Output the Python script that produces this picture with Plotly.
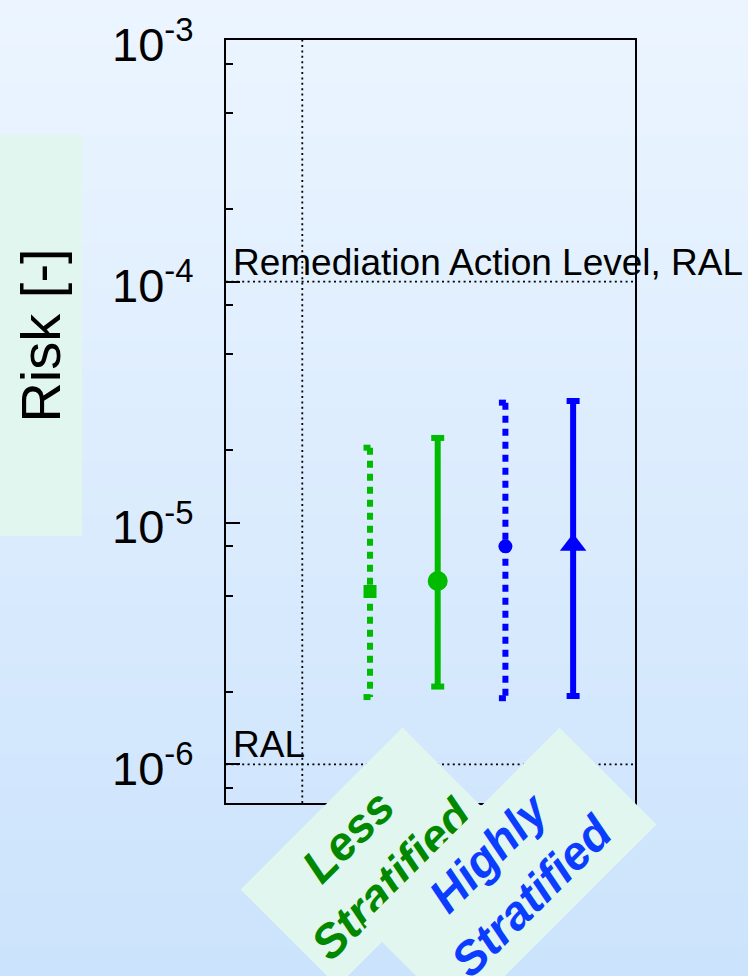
import base64
import struct
import zlib

import numpy as np
import plotly.graph_objects as go

# ---------------------------------------------------------------- data
series_names = ["Less Stratified A", "Less Stratified B", "Highly Stratified A", "Highly Stratified B"]
series_x = [1, 2, 3, 4]
risk_median = [5.2e-6, 5.75e-6, 8.0e-6, 8.1e-6]
risk_low = [1.90e-6, 2.10e-6, 1.88e-6, 1.92e-6]
risk_high = [2.05e-5, 2.25e-5, 3.15e-5, 3.20e-5]

ral_levels = [1e-4, 1e-6]
ral_labels = ["Remediation Action Level, RAL", "RAL"]

y_tick_vals = [1e-6, 1e-5, 1e-4, 1e-3]
y_tick_text = ["10<sup>-6</sup>", "10<sup>-5</sup>", "10<sup>-4</sup>", "10<sup>-3</sup>"]
y_minor_vals = [m * 10.0 ** e for e in range(-7, -3) for m in (2, 5, 8)]

group_labels = ["Less<br>Stratified", "Highly<br>Stratified"]
y_title = "Risk [-]"

# ---------------------------------------------------------------- style
series_color = ["#00bb00", "#00bb00", "#0000ff", "#0000ff"]
series_dash = ["7px,6px", "solid", "7px,6px", "solid"]
marker_symbol = ["square", "circle", "circle", "triangle-up"]
marker_size = [13, 20, 14, 23]
line_w = 6
cap_px = 13

group_color = ["#008800", "#0b3dff"]
mint = "#e2f6f0"
bg_top = np.array([236, 245, 255])
bg_bottom = np.array([203, 227, 252])
FONT = "Liberation Sans, Arial, Helvetica, sans-serif"

W_FIG, H_FIG = 748, 976
L, R, T, B = 226, 113, 40, 173
plot_w = W_FIG - L - R
plot_h = H_FIG - T - B
x_range = [-1.127, 4.914]
y_range = [-6.16, -2.9995]


def px_x(p):
    return (p - L) / plot_w


def px_y(p):
    return (T + plot_h - p) / plot_h


def gradient_png(top, bottom, height, width=4):
    """Vertical linear gradient encoded as a PNG data URI."""
    rows = []
    for r in range(height):
        t = r / (height - 1)
        c = (top * (1 - t) + bottom * t).round().astype(np.uint8)
        rows.append(b"\x00" + bytes(c.tolist()) * width)
    raw = b"".join(rows)

    def chunk(tag, data):
        return (struct.pack(">I", len(data)) + tag + data
                + struct.pack(">I", zlib.crc32(tag + data) & 0xFFFFFFFF))

    ihdr = struct.pack(">IIBBBBB", width, height, 8, 2, 0, 0, 0)
    png = (b"\x89PNG\r\n\x1a\n" + chunk(b"IHDR", ihdr)
           + chunk(b"IDAT", zlib.compress(raw)) + chunk(b"IEND", b""))
    return "data:image/png;base64," + base64.b64encode(png).decode()


# half cap width in x data units
cap_half = cap_px / 2 * (x_range[1] - x_range[0]) / plot_w

fig = go.Figure()

# dotted reference lines
for lvl in ral_levels:
    fig.add_trace(go.Scatter(
        x=x_range, y=[lvl, lvl], mode="lines",
        line=dict(color="black", width=1.8, dash="2px,3.4px"),
        hoverinfo="skip", showlegend=False))
fig.add_trace(go.Scatter(
    x=[0, 0], y=[10 ** y_range[0], 10 ** y_range[1]], mode="lines",
    line=dict(color="black", width=1.8, dash="2px,3.4px"),
    hoverinfo="skip", showlegend=False))

# whiskers with caps
for i in range(len(series_x)):
    xc = series_x[i]
    lo, hi = risk_low[i], risk_high[i]
    fig.add_trace(go.Scatter(
        x=[xc, xc, None, xc - cap_half, xc + cap_half, None, xc - cap_half, xc + cap_half],
        y=[hi, lo, None, hi, hi, None, lo, lo],
        mode="lines", connectgaps=False,
        line=dict(color=series_color[i], width=line_w, dash=series_dash[i]),
        name=series_names[i], showlegend=False))

# central markers
for i in range(len(series_x)):
    fig.add_trace(go.Scatter(
        x=[series_x[i]], y=[risk_median[i]], mode="markers",
        marker=dict(symbol=marker_symbol[i], size=marker_size[i],
                    color=series_color[i], line=dict(width=0)),
        name=series_names[i], showlegend=False))

# page background gradient
background = dict(
    source=gradient_png(bg_top, bg_bottom, H_FIG),
    xref="paper", yref="paper", x=px_x(0), y=px_y(0),
    sizex=W_FIG / plot_w, sizey=H_FIG / plot_h,
    xanchor="left", yanchor="top", sizing="stretch", layer="below")

annotations = []
# y-axis title on its mint panel
annotations.append(dict(
    text=y_title, textangle=-90, xref="paper", yref="paper",
    x=px_x(41), y=px_y(335.5), xanchor="center", yanchor="middle",
    showarrow=False, bgcolor=mint, width=398, height=80, borderpad=1,
    font=dict(family=FONT, size=56, color="black")))

# RAL labels
for lvl, lab in zip(ral_levels, ral_labels):
    annotations.append(dict(
        text=lab, xref="paper", yref="y", x=px_x(231), y=np.log10(lvl),
        xanchor="left", yanchor="bottom", showarrow=False, yshift=-3,
        font=dict(family=FONT, size=37, color="black")))

# category labels on rotated mint boxes
box_centres = [(370, 857), (510, 874)]
box_lengths = [226, 274]
for j in range(len(group_labels)):
    cx, cy = box_centres[j]
    annotations.append(dict(
        text="<b><i>" + group_labels[j] + "</i></b>", textangle=-45,
        xref="paper", yref="paper", x=px_x(cx), y=px_y(cy),
        xanchor="center", yanchor="middle", showarrow=False,
        bgcolor=mint, width=box_lengths[j], height=134, borderpad=1,
        font=dict(family=FONT, size=47, color=group_color[j])))

fig.update_layout(
    width=W_FIG, height=H_FIG,
    margin=dict(l=L, r=R, t=T, b=B, pad=0, autoexpand=False),
    paper_bgcolor="rgb(220,236,253)",
    plot_bgcolor="rgba(0,0,0,0)",
    images=[background], annotations=annotations,
    showlegend=False,
    font=dict(family=FONT, color="black"),
)
fig.update_xaxes(
    range=x_range, showticklabels=False, ticks="", showgrid=False, zeroline=False,
    showline=True, mirror=True, linecolor="black", linewidth=2, automargin=False)
fig.update_yaxes(
    type="log", range=y_range, tickmode="array", tickvals=y_tick_vals, ticktext=y_tick_text,
    ticks="inside", ticklen=14, tickwidth=1.6, tickcolor="black",
    minor=dict(tickmode="array", tickvals=y_minor_vals, ticks="inside", ticklen=7,
               tickwidth=1.6, tickcolor="black", showgrid=False),
    tickfont=dict(family=FONT, size=47, color="black"),
    ticklabelstandoff=21, ticklabelshift=4, ticklabeloverflow="allow",
    showgrid=False, zeroline=False, automargin=False,
    showline=True, mirror=True, linecolor="black", linewidth=2)

fig.write_html("out.html")
